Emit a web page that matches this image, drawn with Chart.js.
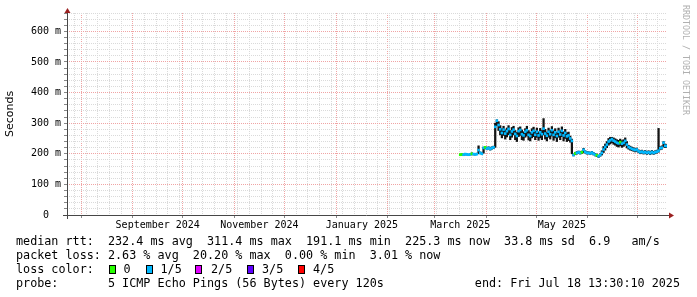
<!DOCTYPE html>
<html><head><meta charset="utf-8">
<script src="https://cdn.jsdelivr.net/npm/chart.js@4/dist/chart.umd.min.js"></script>
<style>
html,body{margin:0;padding:0;background:#fff;}
#wrap{position:relative;width:697px;height:297px;overflow:hidden;background:#fff;}
#c{position:absolute;left:0;top:0;}
.lg{position:absolute;font-family:'DejaVu Sans Mono',monospace;font-size:11.75px;line-height:14px;white-space:pre;color:#000;}
.sw{position:absolute;top:265px;width:5px;height:7px;border:1px solid #000;}
.wm{position:absolute;left:681px;top:5px;writing-mode:vertical-rl;font-family:'DejaVu Sans Mono',monospace;font-size:8.3px;line-height:10px;color:#b0b0b0;white-space:pre;}
</style></head>
<body>
<div id="wrap">
<canvas id="c" width="697" height="297"></canvas>
<div class="lg" style="left:16px;top:234px">median rtt:  232.4 ms avg  311.4 ms max  191.1 ms min  225.3 ms now  33.8 ms sd  6.9   am/s</div>
<div class="lg" style="left:16px;top:248px">packet loss: 2.63 % avg  20.20 % max  0.00 % min  3.01 % now</div>
<div class="lg" style="left:16px;top:262px">loss color:</div>
<div id="lossLegend"></div>
<div class="lg" style="left:16px;top:276px">probe:       5 ICMP Echo Pings (56 Bytes) every 120s</div>
<div class="lg" style="right:17px;top:276px">end: Fri Jul 18 13:30:10 2025</div>
<div class="wm">RRDTOOL / TOBI OETIKER</div>
</div>
<script>
// ---------- data ----------
const dates = [
 '2025-03-16','2025-03-17','2025-03-18','2025-03-19','2025-03-20','2025-03-21','2025-03-22','2025-03-23','2025-03-24','2025-03-25','2025-03-26','2025-03-27','2025-03-28','2025-03-29','2025-03-30','2025-03-31',
 '2025-04-01','2025-04-02','2025-04-03','2025-04-04','2025-04-05','2025-04-06','2025-04-07','2025-04-08','2025-04-09','2025-04-10','2025-04-11','2025-04-12','2025-04-13','2025-04-14','2025-04-15','2025-04-16','2025-04-17','2025-04-18','2025-04-19','2025-04-20','2025-04-21','2025-04-22','2025-04-23','2025-04-24','2025-04-25','2025-04-26','2025-04-27','2025-04-28','2025-04-29','2025-04-30',
 '2025-05-01','2025-05-02','2025-05-03','2025-05-04','2025-05-05','2025-05-06','2025-05-07','2025-05-08','2025-05-09','2025-05-10','2025-05-11','2025-05-12','2025-05-13','2025-05-14','2025-05-15','2025-05-16','2025-05-17','2025-05-18','2025-05-19','2025-05-20','2025-05-21','2025-05-22','2025-05-23','2025-05-24','2025-05-25','2025-05-26','2025-05-27','2025-05-28','2025-05-29','2025-05-30','2025-05-31',
 '2025-06-01','2025-06-02','2025-06-03','2025-06-04','2025-06-05','2025-06-06','2025-06-07','2025-06-08','2025-06-09','2025-06-10','2025-06-11','2025-06-12','2025-06-13','2025-06-14','2025-06-15','2025-06-16','2025-06-17','2025-06-18','2025-06-19','2025-06-20','2025-06-21','2025-06-22','2025-06-23','2025-06-24','2025-06-25','2025-06-26','2025-06-27','2025-06-28','2025-06-29','2025-06-30',
 '2025-07-01','2025-07-02','2025-07-03','2025-07-04','2025-07-05','2025-07-06','2025-07-07','2025-07-08','2025-07-09','2025-07-10','2025-07-11','2025-07-12','2025-07-13','2025-07-14','2025-07-15','2025-07-16','2025-07-17','2025-07-18'
];
// median RTT (ms)
const medianRtt = [
 197,198,197,199,198,197,198,200,199,198,199,212,203,200,219,221,
 217,219,216,219,221,288,308,294,280,268,279,266,274,281,262,273,279,265,258,274,278,264,260,272,277,262,258,270,275,262,
 272,260,270,264,282,266,259,272,264,277,262,270,258,272,263,275,260,268,257,260,250,242,196,201,203,205,203,205,213,206,203,
 203,201,204,200,197,195,192,196,203,214,222,230,240,244,248,243,240,236,234,238,233,236,242,230,222,219,216,214,212,214,
 208,205,207,204,206,203,205,202,206,203,205,207,210,218,220,236,226,225
];
// smoke: lowest / highest ping (ms)
const smokeLow = [
 195,196,195,196,196,195,196,197,196,196,197,200,200,198,202,217,
 213,215,212,215,217,221,292,276,262,252,260,248,255,262,246,254,262,246,240,256,260,246,244,254,258,245,242,252,256,246,
 254,244,252,246,262,248,242,254,248,258,244,252,240,254,246,256,242,250,240,243,238,200,193,197,199,201,199,201,204,202,199,
 199,197,200,196,193,191,188,192,196,204,212,220,228,232,236,231,228,224,222,226,221,224,228,219,215,212,210,208,206,208,
 203,200,202,199,201,198,200,197,201,198,200,202,205,213,215,222,220,220
];
const smokeHigh = [
 199,200,199,201,200,199,201,203,201,200,202,226,206,203,222,224,
 221,223,220,223,225,300,311,305,292,282,290,278,284,292,276,286,290,276,270,285,288,278,272,282,290,276,270,282,287,274,
 284,272,283,276,315,280,271,284,276,289,275,282,270,284,275,288,272,280,269,271,258,248,199,205,207,209,207,209,218,210,207,
 207,205,208,204,201,199,196,200,210,224,232,240,250,254,254,252,249,246,244,248,243,246,252,240,228,225,222,220,217,219,
 213,210,212,209,211,208,210,207,211,208,210,212,283,223,226,240,232,230
];
// loss level per point (index into lossColors)
const lossLevel = [
 0,0,1,1,1,1,1,0,1,1,1,1,1,1,1,0,
 1,1,1,1,1,1,1,1,1,1,1,1,1,1,1,1,1,1,1,1,1,1,1,1,1,1,1,1,1,1,
 1,1,1,1,1,1,1,1,1,1,1,1,1,1,1,1,1,1,1,1,1,1,1,0,1,1,1,0,1,1,1,
 1,1,1,1,1,0,1,1,1,1,1,1,1,1,1,1,1,1,1,0,1,1,1,1,1,1,1,1,1,1,
 1,1,1,1,1,1,1,1,1,1,1,1,1,1,1,1,1,1
];
const lossLabels = ['0','1/5','2/5','3/5','4/5'];
const lossColors = ['#26ff00','#00b8ff','#e000ff','#5e00ff','#ff0000'];
const monthLabels = ['September 2024','November 2024','January 2025','March 2025','May 2025'];
const labelMonths = ['2024-09','2024-11','2025-01','2025-03','2025-05'];
const yTickStep = 20, yMajorStep = 100, yMax = 660;

// ---------- time axis ----------
const DAY = 864e5;
const END = Date.UTC(2025,6,18,13,30,10);
const START = END - 360*DAY;
const xs = dates.map(s => { const [y,m,d] = s.split('-').map(Number); return Date.UTC(y,m-1,d,12); });

const xTickInfo = new Map();
function addTick(v, kind, label){
  if (v < START || v > END) return;
  const e = xTickInfo.get(v);
  if (!e || kind === 'month') xTickInfo.set(v, {kind, label: label || ''});
}
for (let t = Date.UTC(2024,6,1); t <= END; t += DAY) {
  const d = new Date(t);
  if (d.getUTCDay() === 0) addTick(t, 'week');
  if (d.getUTCDate() === 1) addTick(t, 'month');
}
labelMonths.forEach((m,i) => {
  const [y,mo] = m.split('-').map(Number);
  const a = Date.UTC(y,mo-1,1), b = Date.UTC(y,mo,1);
  addTick((a+b)/2, 'label', monthLabels[i]);
});
const xTicks = [...xTickInfo.keys()].sort((a,b)=>a-b);

// ---------- legend swatches ----------
const swX = [109,146,195,247,298], txX = [123.5,160.5,211,262,313];
const ll = document.getElementById('lossLegend');
lossLabels.forEach((lab,i) => {
  const b = document.createElement('div'); b.className='sw'; b.style.left=swX[i]+'px'; b.style.background=lossColors[i]; ll.appendChild(b);
  const t = document.createElement('div'); t.className='lg'; t.style.left=txX[i]+'px'; t.style.top='262px'; t.textContent=lab; ll.appendChild(t);
});

// ---------- colors ----------
const MAJOR = '#f0a4a4', MINOR = '#dadada';
const MEDIAN_HALF = 3.3; // half thickness of the median stroke, in ms

const axesPlugin = {
  id: 'rrdAxes',
  afterDatasetsDraw(chart){
    const {ctx, chartArea:a} = chart;
    ctx.save();
    ctx.strokeStyle = '#474747'; ctx.lineWidth = 1;
    ctx.beginPath();
    ctx.moveTo(a.left+0.5, a.bottom+4); ctx.lineTo(a.left+0.5, a.top-4);
    ctx.moveTo(a.left-4, a.bottom+0.5); ctx.lineTo(a.right+3, a.bottom+0.5);
    ctx.stroke();
    ctx.fillStyle = '#9a2020';
    ctx.beginPath();
    ctx.moveTo(a.left-2.5, a.top); ctx.lineTo(a.left+3.5, a.top); ctx.lineTo(a.left+0.5, a.top-5); ctx.closePath(); ctx.fill();
    ctx.beginPath();
    ctx.moveTo(a.right+2, a.bottom-2.5); ctx.lineTo(a.right+2, a.bottom+3.5); ctx.lineTo(a.right+7, a.bottom+0.5); ctx.closePath(); ctx.fill();
    ctx.restore();
  }
};

new Chart(document.getElementById('c'), {
  type: 'bar',
  data: {
    datasets: [
      {
        label: 'smoke',
        data: xs.map((x,i) => ({x, y: [smokeLow[i], smokeHigh[i]]})),
        backgroundColor: '#141414',
        borderWidth: 0,
        barThickness: 1.6,
        grouped: false,
        order: 2
      },
      {
        label: 'median rtt',
        data: xs.map((x,i) => ({x, y: [medianRtt[i]-MEDIAN_HALF, medianRtt[i]+MEDIAN_HALF]})),
        backgroundColor: lossLevel.map(l => lossColors[l]),
        borderWidth: 0,
        barThickness: 1.9,
        grouped: false,
        order: 1
      }
    ]
  },
  options: {
    responsive: false,
    animation: false,
    devicePixelRatio: 1,
    events: [],
    layout: { padding: { top: 13, right: 30, left: 0, bottom: 0 } },
    plugins: { legend: { display: false }, tooltip: { enabled: false } },
    scales: {
      x: {
        type: 'linear',
        min: START, max: END,
        offset: false,
        afterBuildTicks: s => { s.ticks = xTicks.map(v => ({value: v})); },
        afterFit: s => { s.height = 82; },
        ticks: {
          autoSkip: false, maxRotation: 0, minRotation: 0, padding: 1,
          color: '#000',
          font: { family: 'DejaVu Sans Mono', size: 10 },
          callback: v => { const e = xTickInfo.get(v); return e && e.kind === 'label' ? e.label : ''; }
        },
        grid: {
          offset: false,
          drawTicks: true, tickLength: 3,
          color: c => { const e = c.tick && xTickInfo.get(c.tick.value); if (!e || e.kind === 'label') return 'rgba(0,0,0,0)'; return e.kind === 'month' ? MAJOR : MINOR; },
          tickColor: c => { const e = c.tick && xTickInfo.get(c.tick.value); return e && e.kind === 'month' ? '#888' : 'rgba(0,0,0,0)'; }
        },
        border: { display: false, dash: [1,1] }
      },
      y: {
        type: 'linear',
        min: 0, max: yMax,
        afterFit: s => { s.width = 67; },
        ticks: {
          stepSize: yTickStep, autoSkip: false, maxTicksLimit: 200, padding: 3,
          color: '#000',
          font: { family: 'DejaVu Sans Mono', size: 10 },
          callback: v => v % yMajorStep !== 0 ? '' : (v === 0 ? '0  ' : v + ' m')
        },
        grid: {
          drawTicks: true, tickLength: 3,
          color: c => (c.tick && c.tick.value % yMajorStep === 0) ? MAJOR : MINOR,
          tickColor: '#888'
        },
        border: { display: false, dash: [1,1] },
        title: {
          display: true, text: 'Seconds', color: '#000',
          font: { family: 'DejaVu Sans', size: 11 },
          padding: { top: 4, bottom: 0 }
        }
      }
    }
  },
  plugins: [axesPlugin]
});
</script>
</body></html>
